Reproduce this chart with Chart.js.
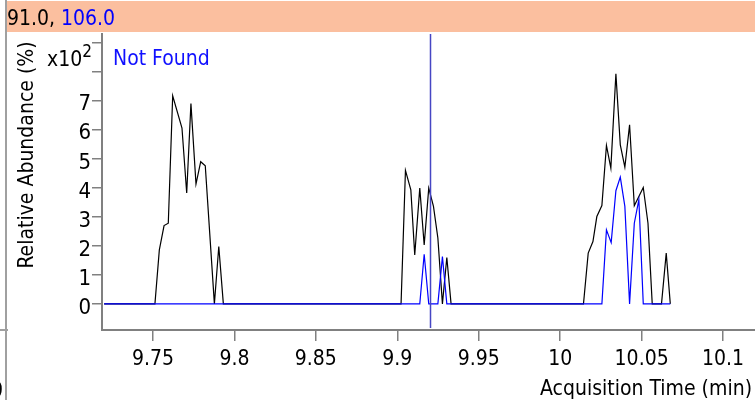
<!DOCTYPE html>
<html>
<head>
<meta charset="utf-8">
<script src="https://cdn.jsdelivr.net/npm/chart.js@4.4.0/dist/chart.umd.min.js"></script>
<style>
  html, body { margin: 0; padding: 0; background: #fff; }
  #wrap { position: relative; width: 755px; height: 400px; }
</style>
</head>
<body>
<div id="wrap"><canvas id="eic" width="755" height="400"></canvas></div>
<script>
// extracted ion chromatogram, values in units of x10^2 %
const blackTimes = [9.72, 9.7512, 9.7539, 9.7568, 9.7594, 9.7621, 9.7678, 9.7707, 9.7733, 9.7764,
    9.7793, 9.7821, 9.7877, 9.7904, 9.7932, 9.9023, 9.905, 9.9083, 9.9107, 9.9138, 9.9165, 9.9193,
    9.9222, 9.9249, 9.9277, 9.9304, 9.933, 10.0143, 10.0172, 10.0201, 10.0225, 10.0256, 10.0284,
    10.0311, 10.0342, 10.0369, 10.0397, 10.0426, 10.0455, 10.0483, 10.051, 10.0539, 10.0565,
    10.0622, 10.0651, 10.0676];
const blackValues = [0, 0, 1.86, 2.7, 2.78, 7.17, 6.06, 3.82, 6.9, 4.13,
    4.9, 4.76, 0, 1.98, 0, 0, 4.6, 3.93, 1.69, 3.99, 2.03, 3.99,
    3.36, 2.27, 0, 1.6, 0, 0, 1.75, 2.15, 3.01, 3.39, 5.46,
    4.68, 7.93, 5.48, 4.71, 6.17, 3.38, 3.7, 4.01, 2.78, 0,
    0, 1.75, 0];

const blueTimes = [9.72, 9.9138, 9.9165, 9.9193, 9.9249, 9.9277, 9.9304, 10.0256, 10.0284,
    10.0313, 10.0342, 10.0369, 10.0397, 10.0426, 10.0455, 10.0483, 10.051, 10.0676];
const blueValues = [0, 0, 1.71, 0, 0, 1.63, 0, 0, 2.55,
    2.11, 3.9, 4.37, 3.36, 0, 2.78, 3.59, 0, 0];

const xTicks = [9.75, 9.8, 9.85, 9.9, 9.95, 10, 10.05, 10.1];
const xTickLabels = ['9.75', '9.8', '9.85', '9.9', '9.95', '10', '10.05', '10.1'];
const yTicks = [0, 1, 2, 3, 4, 5, 6, 7, 8, 9];
const yTickLabels = ['0', '1', '2', '3', '4', '5', '6', '7', '', ''];

const markerTime = 9.92;
const ionLabels = ['91.0, ', '106.0'];

const FONT = '"DejaVu Sans Condensed", "DejaVu Sans", sans-serif';
const AXIS_GRAY = '#808080';

function toPoints(xs, ys) {
    return xs.map((x, i) => ({x: x, y: ys[i]}));
}

const decorations = {
    id: 'decorations',
    beforeDraw(chart) {
        const c = chart.ctx;
        c.save();
        // header strip
        c.fillStyle = '#fbbf9f';
        c.fillRect(6, 1, 749, 31);
        // left frame line
        c.fillStyle = '#a0a0a0';
        c.fillRect(5, 0, 2, 400);
        c.fillRect(0, 329, 8, 2);
        c.restore();
    },
    afterDatasetsDraw(chart) {
        const c = chart.ctx;
        const xs = chart.scales.x;
        const area = chart.chartArea;
        c.save();
        // marker line at current time
        const mx = Math.round(xs.getPixelForValue(markerTime)) + 0.5;
        c.strokeStyle = '#4646c4';
        c.lineWidth = 1.5;
        c.beginPath();
        c.moveTo(mx, area.top);
        c.lineTo(mx, area.bottom - 2);
        c.stroke();
        c.restore();
    },
    afterDraw(chart) {
        const c = chart.ctx;
        c.save();
        c.font = '21px ' + FONT;
        c.textBaseline = 'alphabetic';
        c.textAlign = 'left';
        // header ion labels
        c.fillStyle = '#000';
        c.fillText(ionLabels[0], 7, 25);
        const w0 = c.measureText(ionLabels[0]).width;
        c.fillStyle = '#0000ff';
        c.fillText(ionLabels[1], 7 + w0, 25);
        // status text
        c.fillStyle = '#1010ff';
        c.fillText('Not Found', 113, 65);
        // exponent label
        c.fillStyle = '#000';
        c.fillText('x10', 47, 66);
        const wx = c.measureText('x10').width;
        c.font = '17px ' + FONT;
        c.fillText('2', 47 + wx, 57);
        // axis titles
        c.font = '21px ' + FONT;
        c.textAlign = 'right';
        c.fillText('Acquisition Time (min)', 752, 395);
        c.save();
        c.translate(33, 155);
        c.rotate(-Math.PI / 2);
        c.textAlign = 'center';
        c.fillText('Relative Abundance (%)', 0, 0);
        c.restore();
        // clipped label at the bottom left
        c.textAlign = 'left';
        c.fillText('0', -9, 397);
        c.restore();
    }
};

const chart = new Chart(document.getElementById('eic'), {
    type: 'line',
    data: {
        datasets: [{
            label: '106.0',
            data: toPoints(blueTimes, blueValues),
            borderColor: '#0000ff',
            borderWidth: 1.2,
            pointRadius: 0,
            tension: 0
        }, {
            label: '91.0',
            data: toPoints(blackTimes, blackValues),
            borderColor: '#000000',
            borderWidth: 1.2,
            pointRadius: 0,
            tension: 0
        }]
    },
    options: {
        responsive: false,
        animation: false,
        events: [],
        layout: {
            padding: {top: 34, left: 0, right: 0, bottom: 0}
        },
        plugins: {
            legend: {display: false},
            tooltip: {enabled: false},
            title: {display: false}
        },
        scales: {
            x: {
                type: 'linear',
                min: 9.7187,
                max: 10.1196,
                afterBuildTicks: (scale) => {
                    scale.ticks = xTicks.map(v => ({value: v}));
                },
                afterFit: (scale) => {
                    scale.height = 70;
                },
                ticks: {
                    autoSkip: false,
                    maxRotation: 0,
                    padding: 6,
                    color: '#000',
                    font: {family: FONT, size: 21},
                    callback: (value) => {
                        const i = xTicks.findIndex(t => Math.abs(t - value) < 1e-6);
                        return i >= 0 ? xTickLabels[i] : '';
                    }
                },
                grid: {
                    drawOnChartArea: false,
                    drawTicks: true,
                    tickLength: 11,
                    color: AXIS_GRAY,
                    lineWidth: 1.5
                },
                border: {color: AXIS_GRAY, width: 2}
            },
            y: {
                type: 'linear',
                min: -0.9,
                max: 9.3,
                afterBuildTicks: (scale) => {
                    scale.ticks = yTicks.map(v => ({value: v}));
                },
                afterFit: (scale) => {
                    scale.width = 102;
                },
                ticks: {
                    autoSkip: false,
                    padding: 1,
                    labelOffset: 4,
                    color: '#000',
                    font: {family: FONT, size: 22},
                    callback: (value) => {
                        const i = yTicks.indexOf(value);
                        return i >= 0 ? yTickLabels[i] : '';
                    }
                },
                grid: {
                    drawOnChartArea: false,
                    drawTicks: true,
                    tickLength: 10,
                    color: AXIS_GRAY,
                    lineWidth: 1.5
                },
                border: {color: AXIS_GRAY, width: 2}
            }
        }
    },
    plugins: [decorations]
});
</script>
</body>
</html>
